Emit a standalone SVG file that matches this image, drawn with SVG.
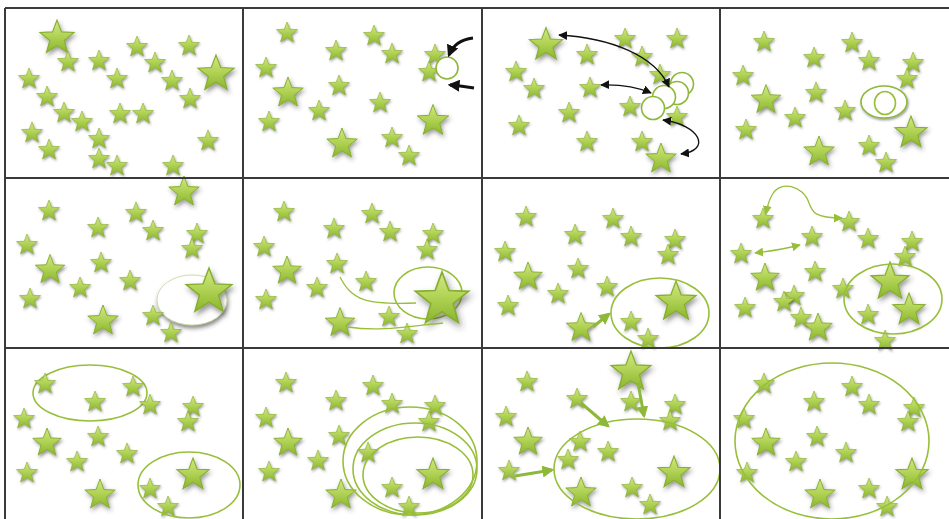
<svg xmlns="http://www.w3.org/2000/svg" xmlns:xlink="http://www.w3.org/1999/xlink" width="949" height="519" viewBox="0 0 949 519">
<style>
.s{fill:url(#g);stroke:#86ad2e;stroke-width:0.6;filter:url(#sh)}
.el{fill:none;stroke:#98bf3a;stroke-width:1.6}
.wc{fill:#fff;stroke:#8db83a;stroke-width:1.6}
.ka{fill:none;stroke:#111;stroke-width:1.3}
.kb{fill:none;stroke:#111;stroke-width:3}
.ga{fill:none;stroke:#98bf3a;stroke-width:1.3}
.gb{fill:none;stroke:#8db83a;stroke-width:3}
.grid{stroke:#3a3a3a;stroke-width:2;fill:none}
</style>
<defs>
<linearGradient id="g" x1="0" y1="0" x2="0" y2="1">
<stop offset="0" stop-color="#d3e985"/>
<stop offset="0.5" stop-color="#b0d254"/>
<stop offset="1" stop-color="#8ab52e"/>
</linearGradient>
<filter id="sh" x="-40%" y="-40%" width="180%" height="180%">
<feDropShadow dx="0.8" dy="1.5" stdDeviation="1.2" flood-color="#333" flood-opacity="0.5"/>
</filter>
<filter id="sh2" x="-30%" y="-30%" width="160%" height="170%">
<feDropShadow dx="1" dy="3" stdDeviation="2" flood-color="#333" flood-opacity="0.6"/>
</filter>
<path id="st" d="M0,-10 L2.469,-3.398 L9.511,-3.090 L3.994,1.298 L5.878,8.090 L0,4.2 L-5.878,8.090 L-3.994,1.298 L-9.511,-3.090 L-2.469,-3.398 Z"/>
<path id="ss" d="M0,-11 L2.716,-3.738 L10.462,-3.399 L4.393,1.428 L6.466,8.899 L0,4.62 L-6.466,8.899 L-4.393,1.428 L-10.462,-3.399 L-2.716,-3.738 Z"/>
<marker id="mk" viewBox="0 0 10 10" refX="9" refY="5" markerWidth="9" markerHeight="9" orient="auto-start-reverse" markerUnits="userSpaceOnUse"><path d="M0,0 L10,5 L0,10 Z" fill="#111"/></marker>
<marker id="mkb" viewBox="0 0 10 10" refX="8" refY="5" markerWidth="4" markerHeight="4" orient="auto-start-reverse"><path d="M0,0 L10,5 L0,10 Z" fill="#111"/></marker>
<marker id="mg" viewBox="0 0 10 10" refX="9" refY="5" markerWidth="9" markerHeight="9" orient="auto-start-reverse" markerUnits="userSpaceOnUse"><path d="M0,0 L10,5 L0,10 Z" fill="#98bf3a"/></marker>
<marker id="mgb" viewBox="0 0 10 10" refX="8" refY="5" markerWidth="4" markerHeight="4" orient="auto-start-reverse"><path d="M0,0 L10,5 L0,10 Z" fill="#8db83a"/></marker>
</defs>
<rect width="949" height="519" fill="#fff"/>

<g id="panel1">
<use href="#st" class="s" transform="translate(57,38) scale(1.8)"/>
<use href="#st" class="s" transform="translate(216,74) scale(1.9)"/>
<use href="#ss" class="s" transform="translate(68,62)"/>
<use href="#ss" class="s" transform="translate(99,61)"/>
<use href="#ss" class="s" transform="translate(137,47)"/>
<use href="#ss" class="s" transform="translate(189,46)"/>
<use href="#ss" class="s" transform="translate(155,63)"/>
<use href="#ss" class="s" transform="translate(29,79)"/>
<use href="#ss" class="s" transform="translate(117,79)"/>
<use href="#ss" class="s" transform="translate(172,81)"/>
<use href="#ss" class="s" transform="translate(47,97)"/>
<use href="#ss" class="s" transform="translate(190,99)"/>
<use href="#ss" class="s" transform="translate(64,113)"/>
<use href="#ss" class="s" transform="translate(82,122)"/>
<use href="#ss" class="s" transform="translate(120,114)"/>
<use href="#ss" class="s" transform="translate(143,114)"/>
<use href="#ss" class="s" transform="translate(32,133)"/>
<use href="#ss" class="s" transform="translate(99,139)"/>
<use href="#ss" class="s" transform="translate(49,150)"/>
<use href="#ss" class="s" transform="translate(208,141)"/>
<use href="#ss" class="s" transform="translate(99,159)"/>
<use href="#ss" class="s" transform="translate(117,166)"/>
<use href="#ss" class="s" transform="translate(173,166)"/>
</g>

<g id="panel2">
<use href="#ss" class="s" transform="translate(287,33)"/>
<use href="#ss" class="s" transform="translate(374,36)"/>
<use href="#ss" class="s" transform="translate(336,51)"/>
<use href="#ss" class="s" transform="translate(392,54)"/>
<use href="#ss" class="s" transform="translate(435,55)"/>
<use href="#ss" class="s" transform="translate(266,68)"/>
<use href="#ss" class="s" transform="translate(429,72)"/>
<use href="#st" class="s" transform="translate(288,93) scale(1.6)"/>
<use href="#ss" class="s" transform="translate(339,86)"/>
<use href="#ss" class="s" transform="translate(319,111)"/>
<use href="#ss" class="s" transform="translate(380,103)"/>
<use href="#ss" class="s" transform="translate(269,122)"/>
<use href="#st" class="s" transform="translate(433,121) scale(1.65)"/>
<use href="#st" class="s" transform="translate(342,144) scale(1.6)"/>
<use href="#ss" class="s" transform="translate(392,138)"/>
<use href="#ss" class="s" transform="translate(409,156)"/>
<circle class="wc" cx="447" cy="68" r="11"/>
</g>

<g id="panel3">
<use href="#st" class="s" transform="translate(546,45) scale(1.75)"/>
<use href="#ss" class="s" transform="translate(625,39)"/>
<use href="#ss" class="s" transform="translate(677,39)"/>
<use href="#ss" class="s" transform="translate(587,55)"/>
<use href="#ss" class="s" transform="translate(642,57)"/>
<use href="#ss" class="s" transform="translate(516,72)"/>
<use href="#ss" class="s" transform="translate(660,75)"/>
<use href="#ss" class="s" transform="translate(534,89)"/>
<use href="#ss" class="s" transform="translate(590,88)"/>
<use href="#ss" class="s" transform="translate(630,107)"/>
<use href="#ss" class="s" transform="translate(569,113)"/>
<use href="#ss" class="s" transform="translate(677,117)"/>
<use href="#ss" class="s" transform="translate(519,126)"/>
<use href="#ss" class="s" transform="translate(587,142)"/>
<use href="#ss" class="s" transform="translate(642,142)"/>
<use href="#st" class="s" transform="translate(661,159) scale(1.6)"/>
<circle class="wc" cx="682" cy="84" r="11.5"/>
<circle class="wc" cx="677" cy="93" r="11.5"/>
<circle class="wc" cx="664" cy="97" r="11.5"/>
<circle class="wc" cx="653" cy="108" r="11.5"/>
</g>

<g id="panel4">
<use href="#ss" class="s" transform="translate(764,42)"/>
<use href="#ss" class="s" transform="translate(852,43)"/>
<use href="#ss" class="s" transform="translate(814,58)"/>
<use href="#ss" class="s" transform="translate(869,61)"/>
<use href="#ss" class="s" transform="translate(913,63)"/>
<use href="#ss" class="s" transform="translate(743,76)"/>
<use href="#ss" class="s" transform="translate(907,79)"/>
<use href="#st" class="s" transform="translate(766,100) scale(1.55)"/>
<use href="#ss" class="s" transform="translate(816,93)"/>
<use href="#ss" class="s" transform="translate(845,111)"/>
<use href="#ss" class="s" transform="translate(795,118)"/>
<use href="#ss" class="s" transform="translate(746,130)"/>
<use href="#st" class="s" transform="translate(911,133) scale(1.7)"/>
<use href="#st" class="s" transform="translate(819,152) scale(1.6)"/>
<use href="#ss" class="s" transform="translate(869,146)"/>
<use href="#ss" class="s" transform="translate(886,163)"/>
<ellipse class="wc" cx="884" cy="102" rx="23" ry="16" filter="url(#sh)"/>
<ellipse class="el" cx="885" cy="103" rx="10.5" ry="11.5"/>
</g>

<g id="panel5">
<ellipse cx="192" cy="300" rx="35" ry="25" fill="#fff" stroke="#c5d89a" stroke-width="0.8" filter="url(#sh2)"/>
<use href="#st" class="s" transform="translate(184,192) scale(1.6)"/>
<use href="#ss" class="s" transform="translate(49,211)"/>
<use href="#ss" class="s" transform="translate(136,213)"/>
<use href="#ss" class="s" transform="translate(98,228)"/>
<use href="#ss" class="s" transform="translate(153,231)"/>
<use href="#ss" class="s" transform="translate(197,234)"/>
<use href="#ss" class="s" transform="translate(27,245)"/>
<use href="#ss" class="s" transform="translate(192,249)"/>
<use href="#st" class="s" transform="translate(50,270) scale(1.55)"/>
<use href="#ss" class="s" transform="translate(101,263)"/>
<use href="#ss" class="s" transform="translate(80,288)"/>
<use href="#ss" class="s" transform="translate(130,281)"/>
<use href="#ss" class="s" transform="translate(30,299)"/>
<use href="#st" class="s" transform="translate(103,321) scale(1.6)"/>
<use href="#ss" class="s" transform="translate(153,316)"/>
<use href="#ss" class="s" transform="translate(171,333)"/>
<use href="#st" class="s" transform="translate(209,292) scale(2.4)"/>
</g>

<g id="panel6">
<use href="#ss" class="s" transform="translate(284,212)"/>
<use href="#ss" class="s" transform="translate(372,214)"/>
<use href="#ss" class="s" transform="translate(334,229)"/>
<use href="#ss" class="s" transform="translate(390,232)"/>
<use href="#ss" class="s" transform="translate(433,234)"/>
<use href="#ss" class="s" transform="translate(264,247)"/>
<use href="#ss" class="s" transform="translate(427,250)"/>
<use href="#st" class="s" transform="translate(287,271) scale(1.5)"/>
<use href="#ss" class="s" transform="translate(337,264)"/>
<use href="#ss" class="s" transform="translate(317,288)"/>
<use href="#ss" class="s" transform="translate(366,282)"/>
<use href="#ss" class="s" transform="translate(266,300)"/>
<use href="#st" class="s" transform="translate(340,323) scale(1.55)"/>
<use href="#ss" class="s" transform="translate(389,317)"/>
<use href="#ss" class="s" transform="translate(407,334)"/>
<ellipse class="el" cx="428" cy="293" rx="34" ry="26"/>
<use href="#st" class="s" transform="translate(442,300) scale(2.8)"/>
</g>

<g id="panel7">
<use href="#ss" class="s" transform="translate(526,217)"/>
<use href="#ss" class="s" transform="translate(613,219)"/>
<use href="#ss" class="s" transform="translate(575,235)"/>
<use href="#ss" class="s" transform="translate(631,237)"/>
<use href="#ss" class="s" transform="translate(675,240)"/>
<use href="#ss" class="s" transform="translate(505,252)"/>
<use href="#ss" class="s" transform="translate(668,255)"/>
<use href="#st" class="s" transform="translate(528,277) scale(1.5)"/>
<use href="#ss" class="s" transform="translate(578,269)"/>
<use href="#ss" class="s" transform="translate(607,287)"/>
<use href="#ss" class="s" transform="translate(558,294)"/>
<use href="#ss" class="s" transform="translate(508,306)"/>
<use href="#st" class="s" transform="translate(581,328) scale(1.55)"/>
<use href="#ss" class="s" transform="translate(631,322)"/>
<use href="#ss" class="s" transform="translate(648,339)"/>
<use href="#st" class="s" transform="translate(676,302) scale(2.1)"/>
<ellipse class="el" cx="660" cy="313" rx="49" ry="35"/>
</g>

<g id="panel8">
<use href="#ss" class="s" transform="translate(763,219)"/>
<use href="#ss" class="s" transform="translate(849,222)"/>
<use href="#ss" class="s" transform="translate(812,237)"/>
<use href="#ss" class="s" transform="translate(868,239)"/>
<use href="#ss" class="s" transform="translate(912,242)"/>
<use href="#ss" class="s" transform="translate(741,254)"/>
<use href="#ss" class="s" transform="translate(905,257)"/>
<use href="#st" class="s" transform="translate(765,278) scale(1.5)"/>
<use href="#ss" class="s" transform="translate(815,272)"/>
<use href="#ss" class="s" transform="translate(843,289)"/>
<use href="#ss" class="s" transform="translate(794,296)"/>
<use href="#ss" class="s" transform="translate(784,302)"/>
<use href="#ss" class="s" transform="translate(745,308)"/>
<use href="#ss" class="s" transform="translate(801,318)"/>
<use href="#st" class="s" transform="translate(818,328) scale(1.5)"/>
<use href="#ss" class="s" transform="translate(868,315)"/>
<use href="#ss" class="s" transform="translate(885,341)"/>
<use href="#st" class="s" transform="translate(890,282) scale(2)"/>
<use href="#st" class="s" transform="translate(909,310) scale(1.7)"/>
<ellipse class="el" cx="893" cy="299" rx="49" ry="35"/>
</g>

<g id="panel9">
<ellipse class="el" cx="90" cy="393" rx="57" ry="28"/>
<use href="#ss" class="s" transform="translate(45,384)"/>
<use href="#ss" class="s" transform="translate(95,402)"/>
<use href="#ss" class="s" transform="translate(133,387)"/>
<use href="#ss" class="s" transform="translate(150,405)"/>
<use href="#ss" class="s" transform="translate(193,407)"/>
<use href="#ss" class="s" transform="translate(24,419)"/>
<use href="#ss" class="s" transform="translate(188,422)"/>
<use href="#st" class="s" transform="translate(47,443) scale(1.5)"/>
<use href="#ss" class="s" transform="translate(98,437)"/>
<use href="#ss" class="s" transform="translate(77,462)"/>
<use href="#ss" class="s" transform="translate(127,454)"/>
<use href="#ss" class="s" transform="translate(27,473)"/>
<use href="#st" class="s" transform="translate(100,495) scale(1.6)"/>
<use href="#st" class="s" transform="translate(193,475) scale(1.7)"/>
<use href="#ss" class="s" transform="translate(150,489)"/>
<use href="#ss" class="s" transform="translate(168,507)"/>
<ellipse class="el" cx="189" cy="485" rx="51" ry="33"/>
</g>

<g id="panel10">
<use href="#ss" class="s" transform="translate(286,383)"/>
<use href="#ss" class="s" transform="translate(373,386)"/>
<use href="#ss" class="s" transform="translate(336,401)"/>
<use href="#ss" class="s" transform="translate(392,404)"/>
<use href="#ss" class="s" transform="translate(435,406)"/>
<use href="#ss" class="s" transform="translate(266,418)"/>
<use href="#ss" class="s" transform="translate(429,422)"/>
<use href="#st" class="s" transform="translate(288,443) scale(1.5)"/>
<use href="#ss" class="s" transform="translate(339,436)"/>
<use href="#ss" class="s" transform="translate(318,461)"/>
<use href="#ss" class="s" transform="translate(368,453)"/>
<use href="#ss" class="s" transform="translate(269,472)"/>
<use href="#st" class="s" transform="translate(341,495) scale(1.6)"/>
<use href="#ss" class="s" transform="translate(392,488)"/>
<use href="#ss" class="s" transform="translate(409,507)"/>
<use href="#st" class="s" transform="translate(433,475) scale(1.7)"/>
<ellipse class="el" cx="410" cy="461" rx="67" ry="54"/>
<ellipse class="el" cx="415" cy="469" rx="62" ry="46"/>
<ellipse class="el" cx="418" cy="475" rx="55" ry="38"/>
</g>

<g id="panel11">
<use href="#st" class="s" transform="translate(631,372) scale(2.1)"/>
<use href="#ss" class="s" transform="translate(527,382)"/>
<use href="#ss" class="s" transform="translate(577,399)"/>
<use href="#ss" class="s" transform="translate(631,402)"/>
<use href="#ss" class="s" transform="translate(675,405)"/>
<use href="#ss" class="s" transform="translate(506,417)"/>
<use href="#ss" class="s" transform="translate(670,421)"/>
<use href="#st" class="s" transform="translate(528,442) scale(1.5)"/>
<use href="#ss" class="s" transform="translate(580,442)"/>
<use href="#ss" class="s" transform="translate(608,452)"/>
<use href="#ss" class="s" transform="translate(568,460)"/>
<use href="#ss" class="s" transform="translate(509,471)"/>
<use href="#st" class="s" transform="translate(581,493) scale(1.6)"/>
<use href="#ss" class="s" transform="translate(632,488)"/>
<use href="#ss" class="s" transform="translate(650,505)"/>
<use href="#st" class="s" transform="translate(674,473) scale(1.7)"/>
<ellipse class="el" cx="637" cy="469" rx="83" ry="50"/>
</g>

<g id="panel12">
<use href="#ss" class="s" transform="translate(764,384)"/>
<use href="#ss" class="s" transform="translate(852,387)"/>
<use href="#ss" class="s" transform="translate(814,402)"/>
<use href="#ss" class="s" transform="translate(869,405)"/>
<use href="#ss" class="s" transform="translate(914,408)"/>
<use href="#ss" class="s" transform="translate(744,419)"/>
<use href="#ss" class="s" transform="translate(908,422)"/>
<use href="#st" class="s" transform="translate(766,443) scale(1.5)"/>
<use href="#ss" class="s" transform="translate(817,437)"/>
<use href="#ss" class="s" transform="translate(846,453)"/>
<use href="#ss" class="s" transform="translate(796,462)"/>
<use href="#ss" class="s" transform="translate(747,473)"/>
<use href="#st" class="s" transform="translate(912,475) scale(1.7)"/>
<use href="#st" class="s" transform="translate(820,495) scale(1.6)"/>
<use href="#ss" class="s" transform="translate(869,489)"/>
<use href="#ss" class="s" transform="translate(887,507)"/>
<ellipse class="el" cx="832" cy="441" rx="97" ry="78"/>
</g>

<g id="connectors">
<path class="kb" d="M473,38 Q455,40 449,55" marker-end="url(#mkb)"/>
<path class="kb" d="M474,88 Q462,86 450,85" marker-end="url(#mkb)"/>
<path class="ka" d="M669,87 C655,55 610,38 559,35" marker-start="url(#mk)" marker-end="url(#mk)"/>
<path class="ka" d="M651,93 Q630,84 601,85" marker-start="url(#mk)" marker-end="url(#mk)"/>
<path class="ka" d="M663,120 C700,125 712,150 681,154" marker-start="url(#mk)" marker-end="url(#mk)"/>
<path class="ga" d="M340,277 C352,300 365,305 416,303"/>
<path class="ga" d="M348,327 C380,332 410,326 443,323"/>
<path class="gb" d="M593,327 L609,314" marker-end="url(#mgb)"/>
<path class="ga" d="M842,218 C815,218 812,212 809,203 C803,185 780,180 772,195 C768,202 767,208 766,214" marker-start="url(#mg)" marker-end="url(#mg)"/>
<path class="ga" d="M800,245 Q780,250 755,253" marker-start="url(#mg)" marker-end="url(#mg)"/>
<path class="gb" d="M638,383 L644,416" marker-end="url(#mgb)"/>
<path class="gb" d="M581,403 L608,426" marker-end="url(#mgb)"/>
<path class="gb" d="M515,476 L552,470" marker-end="url(#mgb)"/>
</g>

<g id="grid">
<path class="grid" d="M5,8 H949 M5,8 V519 M243,8 V519 M482,8 V519 M720,8 V519 M5,178 H949 M5,348 H949"/>
</g>
</svg>
